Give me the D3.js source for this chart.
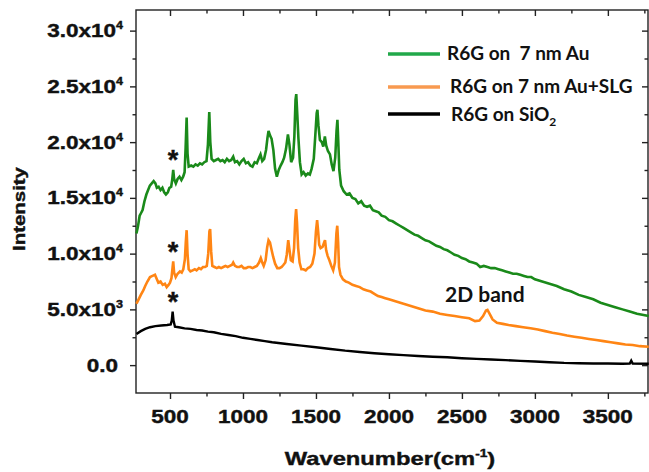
<!DOCTYPE html>
<html>
<head>
<meta charset="utf-8">
<script src="https://cdn.jsdelivr.net/npm/d3@7"></script>
<style>
  body { margin: 0; background: #fff; }
  svg { display: block; }
  .tlab { font-family: "Liberation Sans", Arial, sans-serif; font-weight: bold; font-size: 18px; fill: #111; stroke: #111; stroke-width: 0.4; }
  .leg { font-family: Lato, "Open Sans", sans-serif; font-weight: bold; font-size: 19px; fill: #111; }
  .axis path, .axis line { stroke: #222; stroke-width: 1.4; }
</style>
</head>
<body>
<svg width="649" height="472"></svg>
<script>
// spectra: [wavenumber, intensity]
var greenPoints = [[270,11800],[280,12400],[292,13400],[300,13600],[312,13900],[325,14700],[338,15300],[350,15700],[362,16100],[375,16300],[388,16500],[400,16300],[410,15900],[422,16000],[435,15700],[448,15900],[460,15500],[472,15300],[485,15500],[496,15900],[508,16000],[515,16600],[522,17500],[528,16700],[540,16300],[552,16700],[565,16900],[578,16600],[590,16900],[600,17300],[607,19500],[614,22200],[620,19000],[628,17800],[645,17900],[660,17800],[675,18000],[690,17900],[705,18100],[720,18000],[735,18200],[750,18300],[760,19800],[769,22700],[776,20000],[785,18500],[800,18300],[815,18400],[830,18500],[845,18300],[860,18400],[875,18200],[890,18500],[905,18300],[920,18400],[933,18700],[945,18200],[960,18300],[975,18000],[990,18300],[1005,18500],[1020,18100],[1035,18200],[1050,17900],[1065,17800],[1080,18200],[1095,18100],[1110,18600],[1120,18900],[1132,18300],[1145,18500],[1158,19300],[1168,20400],[1175,21000],[1185,20600],[1196,20300],[1208,19300],[1220,17600],[1232,16900],[1245,17500],[1258,17900],[1270,18200],[1282,18600],[1295,19400],[1308,20700],[1318,19800],[1330,18200],[1343,18600],[1352,20500],[1360,23800],[1365,24300],[1372,22500],[1380,20300],[1390,18200],[1402,17100],[1415,17300],[1430,17000],[1445,17200],[1458,17100],[1470,17600],[1485,18500],[1495,20500],[1505,22600],[1510,22900],[1517,21500],[1527,20200],[1540,20000],[1550,19600],[1561,20500],[1570,19700],[1582,19200],[1596,18900],[1608,18000],[1620,17400],[1632,18600],[1641,21000],[1647,22000],[1653,20000],[1660,17500],[1672,16100],[1690,15600],[1710,15300],[1730,15400],[1750,15000],[1770,14900],[1790,14500],[1810,14700],[1830,14300],[1850,14200],[1870,14300],[1890,13900],[1910,13800],[1930,13700],[1950,13400],[1975,13300],[2000,13000],[2025,12900],[2050,12700],[2075,12500],[2100,12300],[2125,12100],[2150,11900],[2175,11700],[2200,11600],[2225,11400],[2250,11200],[2275,11100],[2300,10900],[2325,10700],[2350,10600],[2375,10400],[2400,10300],[2425,10100],[2450,9900],[2475,9800],[2500,9600],[2525,9500],[2550,9300],[2575,9200],[2600,9100],[2625,8800],[2650,8900],[2675,8800],[2700,8700],[2725,8700],[2750,8600],[2775,8500],[2800,8400],[2825,8300],[2850,8200],[2875,8200],[2900,8100],[2925,8000],[2950,7900],[2975,7900],[3000,7700],[3050,7500],[3100,7300],[3150,7100],[3200,6800],[3250,6600],[3300,6300],[3350,6100],[3400,5900],[3450,5600],[3500,5400],[3550,5200],[3600,5000],[3650,4800],[3700,4600],[3780,4400]];

var orangePoints = [[270,5500],[285,5900],[300,6300],[317,6700],[330,7100],[345,7500],[363,7900],[380,8000],[397,8100],[410,7700],[420,7400],[435,7500],[450,7200],[465,7300],[477,7000],[490,7200],[500,7400],[510,7800],[518,8800],[522,9300],[528,8300],[539,7900],[552,8200],[568,8400],[580,8300],[591,8600],[602,9500],[608,11000],[614,12100],[620,10000],[628,8600],[640,8400],[655,8500],[670,8600],[682,8500],[698,8700],[712,8600],[726,8800],[740,8800],[752,8900],[762,10000],[770,12000],[775,12200],[782,10200],[790,8900],[805,8800],[820,8700],[835,8800],[850,8700],[865,8800],[880,8900],[895,8800],[910,8900],[925,9000],[933,9200],[945,8900],[960,8800],[975,8800],[990,8900],[1005,8700],[1020,8700],[1035,8800],[1050,8800],[1065,8700],[1080,8800],[1095,8900],[1110,9200],[1122,9600],[1132,9200],[1142,8900],[1155,9400],[1166,10600],[1175,11200],[1185,11000],[1195,10400],[1207,9700],[1220,9100],[1235,8700],[1250,8700],[1265,8800],[1278,9000],[1290,9200],[1300,9900],[1310,11200],[1318,10400],[1328,9400],[1340,9300],[1350,10500],[1358,13000],[1364,14000],[1370,12800],[1378,10500],[1388,9200],[1400,8600],[1415,8600],[1430,8500],[1445,8700],[1460,8800],[1475,9100],[1490,10000],[1500,12000],[1508,13000],[1515,12000],[1522,10800],[1532,10500],[1545,10600],[1556,11000],[1562,11200],[1570,10300],[1580,9800],[1592,9400],[1605,8900],[1618,8500],[1630,9200],[1640,11800],[1646,12500],[1652,11000],[1658,8800],[1668,8100],[1685,7700],[1705,7500],[1725,7400],[1750,7200],[1775,7100],[1800,7000],[1825,6800],[1850,6700],[1875,6600],[1900,6400],[1925,6200],[1950,6100],[1975,6000],[2000,5900],[2050,5700],[2100,5500],[2150,5300],[2200,5100],[2250,4900],[2300,4800],[2350,4600],[2400,4500],[2450,4400],[2500,4300],[2550,4200],[2590,3950],[2620,4000],[2645,4400],[2665,4900],[2675,4950],[2690,4600],[2710,4100],[2740,3800],[2780,3700],[2820,3600],[2870,3500],[2920,3400],[2970,3300],[3020,3200],[3070,3050],[3120,2900],[3170,2800],[3220,2650],[3270,2550],[3320,2450],[3370,2350],[3420,2250],[3470,2150],[3520,2050],[3570,1950],[3620,1850],[3670,1800],[3720,1700],[3780,1650]];

var blackPoints = [[270,2800],[300,3050],[330,3250],[363,3400],[400,3500],[440,3550],[480,3600],[505,3650],[512,4000],[518,4800],[524,4000],[534,3450],[560,3400],[600,3300],[640,3250],[682,3150],[720,3100],[760,3000],[800,2950],[850,2800],[900,2700],[950,2600],[1000,2450],[1050,2350],[1100,2250],[1150,2150],[1200,2050],[1300,1900],[1400,1750],[1500,1600],[1600,1450],[1700,1300],[1800,1180],[1900,1070],[2000,980],[2100,900],[2200,820],[2300,750],[2400,700],[2500,620],[2600,560],[2700,500],[2800,450],[2900,380],[3000,320],[3100,260],[3200,200],[3300,170],[3400,150],[3500,140],[3600,130],[3650,140],[3660,400],[3670,140],[3780,120]];

var seriesNames = ["R6G on  7 nm Au", "R6G on 7 nm Au+SLG", "R6G on SiO"];
var xTicks = [500, 1000, 1500, 2000, 2500, 3000, 3500];
var xMinor = [750, 1250, 1750, 2250, 2750, 3250, 3750];
var yTicks = [0, 5000, 10000, 15000, 20000, 25000, 30000];
var yMinor = [2500, 7500, 12500, 17500, 22500, 27500];
var yMant = ["0.0", "5.0x10", "1.0x10", "1.5x10", "2.0x10", "2.5x10", "3.0x10"];
var yExp = ["", "3", "4", "4", "4", "4", "4"];
// star marks over the 520 cm-1 Si peak: [wavenumber, intensity]
var stars = [[520, 18800], [520, 10500], [520, 6000]];

var svg = d3.select("svg");
var pLeft = 136, pRight = 648, pTop = 10, pBottom = 393;

var x = d3.scaleLinear().domain([267, 3775]).range([pLeft, pRight]);
var y = d3.scaleLinear().domain([-2500, 31850]).range([pBottom, pTop]);

// axes (ticks only, labels drawn separately)
function addAxis(gen, tr, vals, size) {
  svg.append("g").attr("class", "axis").attr("transform", tr)
    .call(gen.tickValues(vals).tickSize(size).tickSizeOuter(0).tickFormat(""));
}
addAxis(d3.axisBottom(x), "translate(0," + pBottom + ")", xTicks, 6);
addAxis(d3.axisBottom(x), "translate(0," + pBottom + ")", xMinor, 3.5);
addAxis(d3.axisTop(x), "translate(0," + pTop + ")", xTicks, -6);
addAxis(d3.axisTop(x), "translate(0," + pTop + ")", xMinor, -3.5);
addAxis(d3.axisLeft(y), "translate(" + pLeft + ",0)", yTicks, 6);
addAxis(d3.axisLeft(y), "translate(" + pLeft + ",0)", yMinor, 3.5);
addAxis(d3.axisRight(y), "translate(" + pRight + ",0)", yTicks, -6);
addAxis(d3.axisRight(y), "translate(" + pRight + ",0)", yMinor, -3.5);
svg.selectAll(".axis .domain").remove();
svg.append("rect").attr("x", pLeft).attr("y", pTop)
  .attr("width", pRight - pLeft).attr("height", pBottom - pTop)
  .attr("fill", "none").attr("stroke", "#222").attr("stroke-width", 1.4);

// x tick labels
svg.selectAll(".xlab").data(xTicks).enter().append("text")
  .attr("class", "tlab")
  .attr("text-anchor", "middle")
  .attr("transform", function(d) { return "translate(" + x(d) + ",423) scale(1.25,1)"; })
  .text(function(d) { return d; });

// y tick labels with superscripts
var yl = svg.selectAll(".ylab").data(yTicks).enter().append("text")
  .attr("class", "tlab")
  .attr("text-anchor", "end")
  .attr("transform", function(d, i) { return "translate(" + (yExp[i] ? 123 : 118) + "," + (y(d) + 6.5) + ") scale(1.25,1)"; });
yl.append("tspan").text(function(d, i) { return yMant[i]; });
yl.append("tspan").attr("dy", -8).attr("font-size", 10).text(function(d, i) { return yExp[i]; });

// axis titles
svg.append("text").attr("class", "tlab")
  .attr("text-anchor", "middle")
  .attr("transform", "translate(25,209) rotate(-90) scale(1.2,1)")
  .style("font-size", "17px")
  .text("Intensity");
var xt = svg.append("text").attr("class", "tlab")
  .attr("text-anchor", "middle")
  .attr("transform", "translate(390,465) scale(1.25,1)")
  .style("font-size", "19px");
xt.append("tspan").text("Wavenumber(cm");
xt.append("tspan").attr("dy", -8).attr("font-size", 11).text("-1");
xt.append("tspan").attr("dy", 8).text(")");

// spectra
var line = d3.line()
  .x(function(d) { return x(d[0]); })
  .y(function(d) { return y(d[1]); });

svg.append("path").attr("d", line(blackPoints))
  .attr("fill", "none").attr("stroke", "#000").attr("stroke-width", 2.4);
svg.append("path").attr("d", line(orangePoints))
  .attr("fill", "none").attr("stroke", "#ff8514").attr("stroke-width", 2.6);
svg.append("path").attr("d", line(greenPoints))
  .attr("fill", "none").attr("stroke", "#1a8a1a").attr("stroke-width", 2.6);

// asterisks
svg.selectAll(".star").data(stars).enter().append("text")
  .attr("class", "tlab")
  .attr("text-anchor", "middle")
  .style("font-size", "27px")
  .attr("x", function(d) { return x(d[0]); })
  .attr("y", function(d) { return y(d[1]) + 13; })
  .text("*");

// 2D band label
svg.append("text").attr("class", "leg")
  .attr("x", 445).attr("y", 302)
  .style("font-size", "21px")
  .text("2D band");

// legend
var legColors = ["#22a84a", "#f89a50", "#000"];
var legY = [54, 87, 114];
var legTextY = [60, 93, 121];
var legTextX = [447, 450, 451];
seriesNames.forEach(function(name, i) {
  svg.append("line")
    .attr("x1", 388).attr("x2", 440)
    .attr("y1", legY[i]).attr("y2", legY[i])
    .attr("stroke", legColors[i]).attr("stroke-width", 3.5);
  var t = svg.append("text").attr("class", "leg")
    .attr("x", legTextX[i]).attr("y", legTextY[i])
    .attr("xml:space", "preserve")
    .text(name);
  if (i == 2) t.append("tspan").attr("dy", 5).attr("font-size", 12).text("2");
});
</script>
</body>
</html>
